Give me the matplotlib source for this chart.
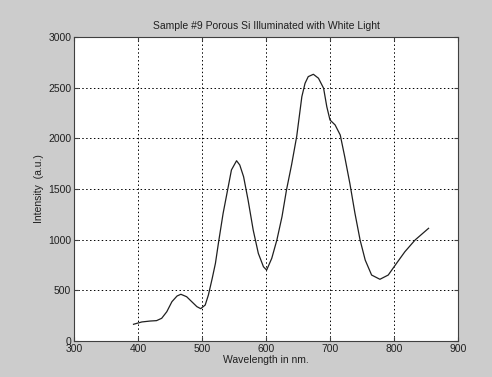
import matplotlib
matplotlib.use("Agg")
import matplotlib.pyplot as plt

# wavelength (nm) and intensity (a.u.)
wavelength = [393, 406, 419, 429, 437, 445, 453, 461, 467, 476, 484, 492,
              498, 505, 510, 516, 521, 526, 533, 540, 546, 554, 559, 565,
              572, 580, 588, 596, 601, 609, 617, 625, 632, 640, 648, 656,
              661, 666, 674, 682, 690, 695, 700, 708, 716, 723, 731, 739,
              747, 755, 765, 778, 791, 804, 817, 833, 854]
intensity = [165, 188, 197, 201, 224, 289, 388, 444, 461, 437, 388, 339,
             319, 355, 454, 619, 767, 980, 1260, 1490, 1688, 1779, 1737, 1621,
             1391, 1095, 865, 733, 700, 816, 997, 1227, 1490, 1740, 2020, 2411,
             2543, 2609, 2632, 2593, 2494, 2312, 2181, 2132, 2033, 1819, 1556, 1260,
             997, 799, 651, 609, 651, 767, 881, 997, 1112]

x_ticks = [300, 400, 500, 600, 700, 800, 900]
y_ticks = [0, 500, 1000, 1500, 2000, 2500, 3000]

plt.rcParams['font.family'] = ['Liberation Sans', 'DejaVu Sans']

fig = plt.figure(figsize=(4.92, 3.77), dpi=100, facecolor='#cccccc')
ax = fig.add_axes([74 / 492, 1 - 341 / 377, 384 / 492, 304 / 377])
ax.set_facecolor('white')

ax.plot(wavelength, intensity, color='#202020', linewidth=0.9)

ax.set_xlim(300, 900)
ax.set_ylim(0, 3000)
ax.set_xticks(x_ticks)
ax.set_yticks(y_ticks)
ax.grid(True, color='black', linestyle=(0, (1.5, 2.5)), linewidth=0.7)
ax.tick_params(direction='in', top=True, right=True, length=3, labelsize=7.5,
               color='#404040', labelcolor='#202020', pad=2)
for s in ax.spines.values():
    s.set_color('#404040')
    s.set_linewidth(0.8)

ax.set_title('Sample #9 Porous Si Illuminated with White Light', fontsize=7.5,
             color='#202020', pad=6)
ax.set_xlabel('Wavelength in nm.', fontsize=7.5, color='#202020', labelpad=1)
ax.set_ylabel('Intensity  (a.u.)', fontsize=7.5, color='#202020', labelpad=3)

fig.savefig('out.png', dpi=100, facecolor=fig.get_facecolor())
